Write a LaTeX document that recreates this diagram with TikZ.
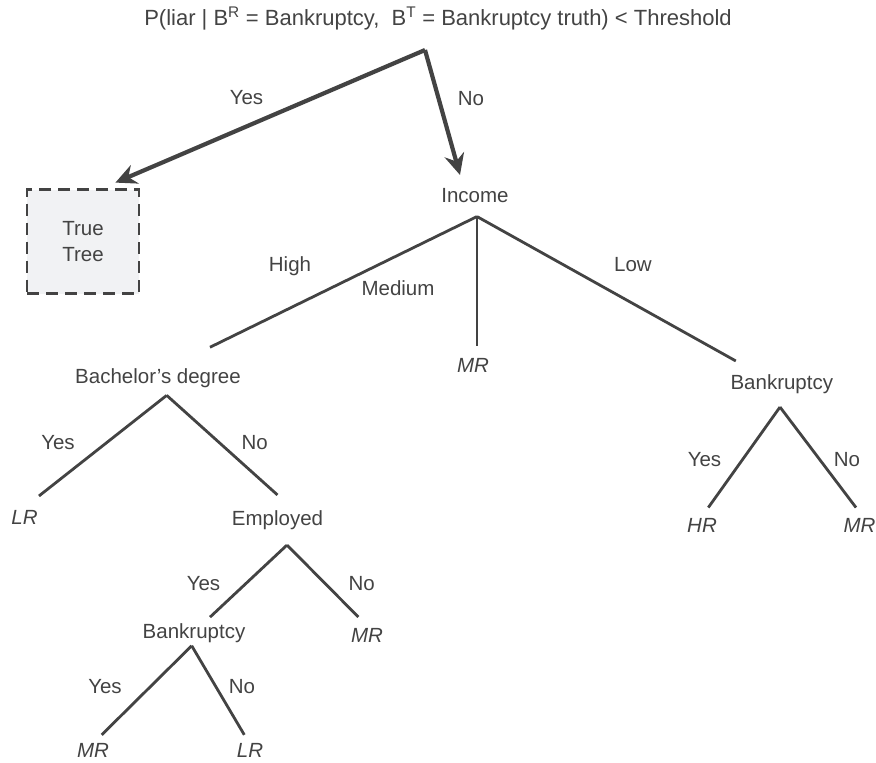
\documentclass[tikz,border=0pt]{standalone}
\usepackage{fontspec}
\setmainfont{Liberation Sans}
\usetikzlibrary{arrows.meta,positioning,calc}
\definecolor{inkgray}{HTML}{434343}
\definecolor{boxgray}{HTML}{F1F2F4}

\begin{document}
\begin{tikzpicture}[x=1pt,y=-1pt,
    every node/.style={text=inkgray,inner sep=0pt,text height=14.7pt,text depth=0pt,
      font=\fontsize{20.5}{26}\selectfont},
    leaf/.style={font=\fontsize{20.5}{26}\selectfont\itshape},
    truebox/.style={draw=inkgray,fill=boxgray,line width=2.8pt,dash pattern=on 12pt off 7pt,
      minimum width=112pt,minimum height=104pt,align=center,text height=,text depth=},
    branch/.style={draw=inkgray,line width=2.8pt},
    bigarrow/.style={draw=inkgray,line width=4.2pt,
      -{Stealth[length=21pt,width=20pt,inset=7pt]}}]
    \useasboundingbox (0,0) rectangle (876,763);
    % root test
    \node[font=\fontsize{22}{26}\selectfont] (title) at (438,18)
      {P(liar | B\textsuperscript{R} = Bankruptcy,\ \ B\textsuperscript{T} = Bankruptcy truth) < Threshold};
    \coordinate (split) at (425,50);
    \node[truebox] (truetree) at (83,241.5) {True\\Tree};
    \node (income) at (475,195) {Income};
    \draw[bigarrow] (split) -- ([shift={(-25,-5.5)}]truetree.north east);
    \draw[bigarrow] (split) -- ([shift={(-15,-12.5)}]income.north);
    \node (yes0) at (246.5,97.5) {Yes};
    \node (no0) at (471,98) {No};
    % income level
    \node (bach) at (158,375.8) {Bachelor’s degree};
    \node[leaf] (mrmid) at (473,365) {MR};
    \node (bankR) at (781.8,382.5) {Bankruptcy};
    \draw[branch] ([shift={(2,14)}]income.south) -- ([shift={(52,-21)}]bach.north);
    \draw[branch] ([shift={(2,14)}]income.south) -- ([shift={(4,-11)}]mrmid.north);
    \draw[branch] ([shift={(2,14)}]income.south) -- ([shift={(-46,-14)}]bankR.north);
    \node (high) at (290,264.5) {High};
    \node (medium) at (398,288.3) {Medium};
    \node (low) at (633,264.5) {Low};
    % bachelor's degree
    \node[leaf] (lrA) at (24.5,517.5) {LR};
    \node (empl) at (277.5,518) {Employed};
    \draw[branch] ([shift={(8.7,12)}]bach.south) -- ([shift={(14.5,-14)}]lrA.north);
    \draw[branch] ([shift={(8.7,12)}]bach.south) -- ([shift={(0,-15.5)}]empl.north);
    \node (yesA) at (58,442.5) {Yes};
    \node (noA) at (254.7,442.5) {No};
    % employed
    \node (bankL) at (194,630.7) {Bankruptcy};
    \node[leaf] (mrB) at (367,635.5) {MR};
    \draw[branch] ([shift={(9.5,19.5)}]empl.south) -- ([shift={(16,-6)}]bankL.north);
    \draw[branch] ([shift={(9.5,19.5)}]empl.south) -- ([shift={(-8.7,-11)}]mrB.north);
    \node (yesB) at (203.5,583) {Yes};
    \node (noB) at (361.7,583) {No};
    % bankruptcy, left
    \node[leaf] (mrC) at (93,750) {MR};
    \node[leaf] (lrC) at (250,750) {LR};
    \draw[branch] ([shift={(-2.3,7.5)}]bankL.south) -- ([shift={(8.7,-7.6)}]mrC.north);
    \draw[branch] ([shift={(-2.3,7.5)}]bankL.south) -- ([shift={(-5.7,-7.6)}]lrC.north);
    \node (yesC) at (105,686.5) {Yes};
    \node (noC) at (242,686.5) {No};
    % bankruptcy, right
    \node[leaf] (hrD) at (702,524.7) {HR};
    \node[leaf] (mrD) at (859.5,524.7) {MR};
    \draw[branch] ([shift={(-1.8,17)}]bankR.south) -- ([shift={(6.3,-9.6)}]hrD.north);
    \draw[branch] ([shift={(-1.8,17)}]bankR.south) -- ([shift={(-3.5,-9.6)}]mrD.north);
    \node (yesD) at (704.5,459) {Yes};
    \node (noD) at (847,459) {No};
\end{tikzpicture}
\end{document}
